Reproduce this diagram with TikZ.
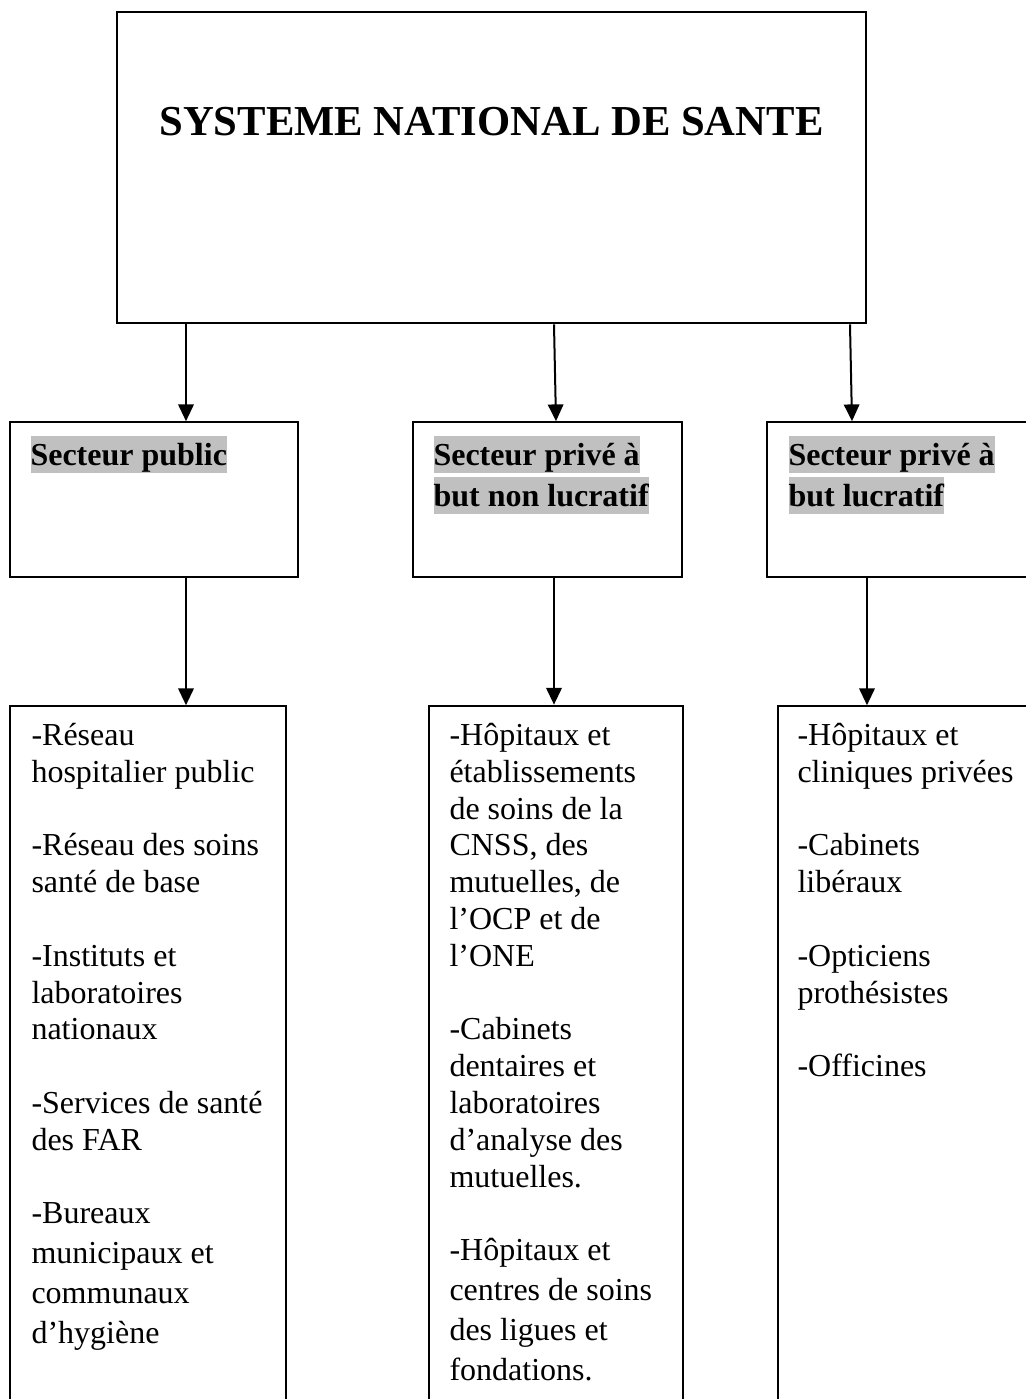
\documentclass[tikz,border=0pt]{standalone}
\usepackage{fontspec}
\setmainfont{Liberation Serif}
\usetikzlibrary{arrows.meta,fit}
\definecolor{hlgray}{HTML}{C0C0C0}
\newcommand\hl[1]{{\setlength\fboxsep{0pt}\colorbox{hlgray}{\rule[-2.8pt]{0pt}{13.8pt}#1}}}
\newcommand\gap{\\[13.8pt]}
\newcommand\topline{\rule{0pt}{11pt}}
\tikzset{
  box/.style={draw, inner sep=0pt, line width=0.6pt},
  thickbox/.style={box, line width=1pt},
  head/.style={anchor=north west, align=left, inner sep=0pt, font=\fontsize{12}{15.4}\selectfont\bfseries},
  item/.style={anchor=north west, align=left, inner sep=0pt, font=\fontsize{12}{13.8}\selectfont},
  arr/.style={line width=0.75pt, -{Triangle[length=6.3pt,width=5.8pt]}}
}
\begin{document}
\begin{tikzpicture}[x=0.375pt, y=-0.375pt]
\useasboundingbox (0,0) rectangle (1026,1399);
\node[thickbox, fit={(117,12) (866,323)}] (top) {};
\node[anchor=base, font=\fontsize{16}{19}\selectfont\bfseries] (title) at (491.5,135) {SYSTEME NATIONAL DE SANTE};

\node[box, fit={(10,422) (298,577)}] (hdr1) {};
\node[box, fit={(413,422) (682,577)}] (hdr2) {};
\node[box, fit={(767,422) (1040,577)}] (hdr3) {};
\node[head] (sec1) at (30,435.7) {\hl{Secteur public}};
\node[head] (sec2) at (433,435.7) {\hl{Secteur privé à}\\\hl{but non lucratif}};
\node[head] (sec3) at (788,435.7) {\hl{Secteur privé à}\\\hl{but lucratif}};

\node[box, fit={(10,706) (286,1420)}] (lst1) {};
\node[thickbox, fit={(429,706) (683,1420)}] (lst2) {};
\node[box, fit={(778,706) (1040,1420)}] (lst3) {};
\node[item] (pub) at (31,715.7) {\topline-Réseau\\hospitalier public\gap
  -Réseau des soins\\santé de base\gap
  -Instituts et\\laboratoires\\nationaux\gap
  -Services de santé\\des FAR\gap
  -Bureaux\\[1.2pt]municipaux et\\[1.2pt]communaux\\[1.2pt]d’hygiène};
\node[item] (nonluc) at (449,715.7) {\topline-Hôpitaux et\\établissements\\de soins de la\\CNSS, des\\mutuelles, de\\l’OCP et de\\l’ONE\gap
  -Cabinets\\dentaires et\\laboratoires\\d’analyse des\\mutuelles.\gap
  -Hôpitaux et\\[1.2pt]centres de soins\\[1.2pt]des ligues et\\[1.2pt]fondations.};
\node[item] (luc) at (797,715.7) {\topline-Hôpitaux et\\cliniques privées\gap
  -Cabinets\\libéraux\gap
  -Opticiens\\prothésistes\gap
  -Officines};

\path[draw,arr] (top.south -| 186,0) -- (hdr1.north -| 186,0);
\path[draw,arr] (top.south -| 554,0) -- (hdr2.north -| 556,0);
\path[draw,arr] (top.south -| 850,0) -- (hdr3.north -| 852,0);
\path[draw,arr] (hdr1.south -| 186,0) -- (lst1.north -| 186,0);
\path[draw,arr] (hdr2.south -| 554,0) -- (lst2.north -| 554,0);
\path[draw,arr] (hdr3.south -| 867,0) -- (lst3.north -| 867,0);
\end{tikzpicture}
\end{document}
